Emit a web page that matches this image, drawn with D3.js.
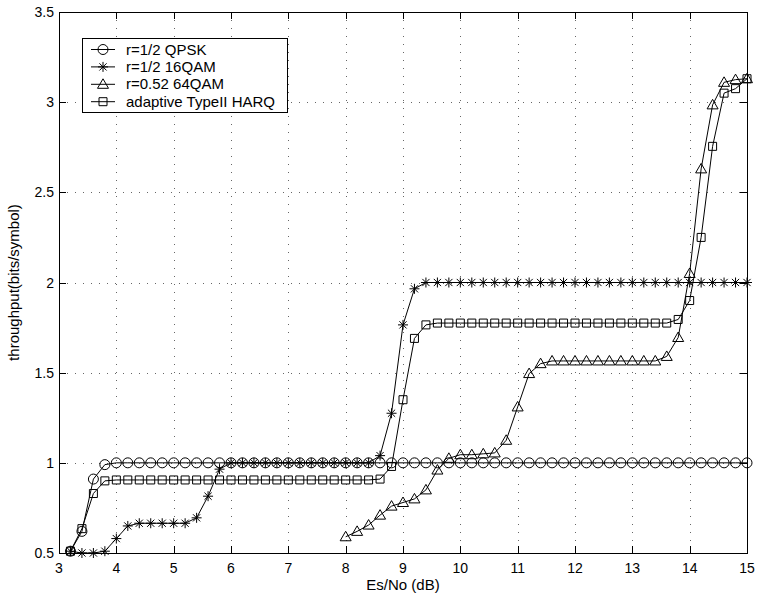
<!DOCTYPE html>
<html>
<head>
<meta charset="utf-8">
<title>throughput</title>
<script src="https://cdn.jsdelivr.net/npm/d3@7"></script>
<style>
body { margin: 0; background: #fff; }
text { font-family: "Liberation Sans", Arial, sans-serif; fill: #000; }
</style>
</head>
<body>
<svg id="chart" width="759" height="599"></svg>
<script>
// Es/No values (dB)
let xs_full = [3.2, 3.4, 3.6, 3.8, 4.0, 4.2, 4.4, 4.6, 4.8, 5.0, 5.2, 5.4, 5.6, 5.8, 6.0, 6.2, 6.4, 6.6, 6.8, 7.0,
               7.2, 7.4, 7.6, 7.8, 8.0, 8.2, 8.4, 8.6, 8.8, 9.0, 9.2, 9.4, 9.6, 9.8, 10.0, 10.2, 10.4, 10.6, 10.8, 11.0,
               11.2, 11.4, 11.6, 11.8, 12.0, 12.2, 12.4, 12.6, 12.8, 13.0, 13.2, 13.4, 13.6, 13.8, 14.0, 14.2, 14.4, 14.6, 14.8, 15.0];
let xs_64 = [8.0, 8.2, 8.4, 8.6, 8.8, 9.0, 9.2, 9.4, 9.6, 9.8, 10.0, 10.2, 10.4, 10.6, 10.8, 11.0, 11.2, 11.4,
             11.6, 11.8, 12.0, 12.2, 12.4, 12.6, 12.8, 13.0, 13.2, 13.4, 13.6, 13.8, 14.0, 14.2, 14.4, 14.6, 14.8, 15.0];

// throughput (bits/symbol)
let qpsk = [0.51, 0.62, 0.91, 0.99, 1, 1, 1, 1, 1, 1, 1, 1, 1, 1, 1, 1, 1, 1, 1, 1,
            1, 1, 1, 1, 1, 1, 1, 1, 1, 1, 1, 1, 1, 1, 1, 1, 1, 1, 1, 1,
            1, 1, 1, 1, 1, 1, 1, 1, 1, 1, 1, 1, 1, 1, 1, 1, 1, 1, 1, 1];
let qam16 = [0.51, 0.50, 0.50, 0.51, 0.58, 0.65, 0.665, 0.665, 0.665, 0.665, 0.665, 0.695, 0.815, 0.965, 1, 1, 1, 1, 1, 1,
             1, 1, 1, 1, 1, 1, 1, 1.04, 1.275, 1.765, 1.965, 2, 2, 2, 2, 2, 2, 2, 2, 2,
             2, 2, 2, 2, 2, 2, 2, 2, 2, 2, 2, 2, 2, 2, 2, 2, 2, 2, 2, 2];
let qam64 = [0.59, 0.62, 0.655, 0.71, 0.76, 0.78, 0.80, 0.85, 0.96, 1.025, 1.045, 1.045, 1.05, 1.055, 1.125, 1.31, 1.495, 1.55,
             1.565, 1.565, 1.565, 1.565, 1.565, 1.565, 1.565, 1.565, 1.565, 1.565, 1.59, 1.695, 2.05, 2.63, 2.985, 3.11, 3.125, 3.13];
let harq = [0.51, 0.635, 0.83, 0.90, 0.905, 0.905, 0.905, 0.905, 0.905, 0.905, 0.905, 0.905, 0.905, 0.905, 0.905, 0.905, 0.905, 0.905, 0.905, 0.905,
            0.905, 0.905, 0.905, 0.905, 0.905, 0.905, 0.905, 0.91, 0.98, 1.35, 1.69, 1.765, 1.775, 1.775, 1.775, 1.775, 1.775, 1.775, 1.775, 1.775,
            1.775, 1.775, 1.775, 1.775, 1.775, 1.775, 1.775, 1.775, 1.775, 1.775, 1.775, 1.775, 1.775, 1.795, 1.90, 2.25, 2.755, 3.05, 3.075, 3.13];

let series_names = ['r=1/2 QPSK', 'r=1/2 16QAM', 'r=0.52 64QAM', 'adaptive TypeII HARQ'];
let x_ticks = [3, 4, 5, 6, 7, 8, 9, 10, 11, 12, 13, 14, 15];
let y_ticks = [0.5, 1, 1.5, 2, 2.5, 3, 3.5];

let svg = d3.select('#chart');
let pl = 59, pr = 747, pt = 12, pb = 553;

let x = d3.scaleLinear().domain([3, 15]).range([pl, pr]);
let y = d3.scaleLinear().domain([0.5, 3.5]).range([pb, pt]);

// marker shapes
let markers = {
    circle: 'M5,0A5,5 0 1,1 -5,0A5,5 0 1,1 5,0Z',
    star: 'M-5,0L5,0M0,-5L0,5M-3.6,-3.6L3.6,3.6M-3.6,3.6L3.6,-3.6',
    triangle: 'M0,-5.5L5.5,4L-5.5,4Z',
    square: 'M-4,-4H4V4H-4Z'
};

let series = [
    {name: series_names[0], xs: xs_full, ys: qpsk, marker: 'circle'},
    {name: series_names[1], xs: xs_full, ys: qam16, marker: 'star'},
    {name: series_names[2], xs: xs_64, ys: qam64, marker: 'triangle'},
    {name: series_names[3], xs: xs_full, ys: harq, marker: 'square'}
];

// grid
let grid = svg.append('g')
    .attr('stroke', '#666')
    .attr('stroke-width', 1)
    .attr('stroke-dasharray', '1,7');
grid.selectAll('.gx').data(x_ticks.slice(1, -1)).enter().append('line')
    .attr('x1', d => Math.round(x(d)) + 0.5).attr('x2', d => Math.round(x(d)) + 0.5)
    .attr('y1', pt).attr('y2', pb);
grid.selectAll('.gy').data(y_ticks.slice(1, -1)).enter().append('line')
    .attr('y1', d => Math.round(y(d)) + 0.5).attr('y2', d => Math.round(y(d)) + 0.5)
    .attr('x1', pl).attr('x2', pr);

// lines + markers
let line = d3.line()
    .x(d => x(d[0]))
    .y(d => y(d[1]));

series.forEach(s => {
    let pts = s.xs.map((v, i) => [v, s.ys[i]]);
    svg.append('path')
        .datum(pts)
        .attr('d', line)
        .attr('fill', 'none')
        .attr('stroke', '#000')
        .attr('stroke-width', 1);
    svg.append('g').selectAll('path').data(pts).enter().append('path')
        .attr('d', markers[s.marker])
        .attr('transform', d => `translate(${x(d[0])},${y(d[1])})`)
        .attr('fill', 'none')
        .attr('stroke', '#000')
        .attr('stroke-width', 1);
});

// axes box and ticks
let axes = svg.append('g').attr('stroke', '#000').attr('stroke-width', 1);
axes.append('rect')
    .attr('x', pl + 0.5).attr('y', pt + 0.5)
    .attr('width', pr - pl).attr('height', pb - pt)
    .attr('fill', 'none');
let tl = 7;
x_ticks.forEach(t => {
    let px = Math.round(x(t)) + 0.5;
    axes.append('line').attr('x1', px).attr('x2', px).attr('y1', pb).attr('y2', pb - tl);
    axes.append('line').attr('x1', px).attr('x2', px).attr('y1', pt).attr('y2', pt + tl);
});
y_ticks.forEach(t => {
    let py = Math.round(y(t)) + 0.5;
    axes.append('line').attr('x1', pl).attr('x2', pl + tl).attr('y1', py).attr('y2', py);
    axes.append('line').attr('x1', pr).attr('x2', pr - tl).attr('y1', py).attr('y2', py);
});

svg.append('g').selectAll('text').data(x_ticks).enter().append('text')
    .attr('x', d => x(d))
    .attr('y', pb + 20)
    .attr('text-anchor', 'middle')
    .style('font-size', '14px')
    .text(d => d);
svg.append('g').selectAll('text').data(y_ticks).enter().append('text')
    .attr('x', pl - 5)
    .attr('y', d => y(d) + 5)
    .attr('text-anchor', 'end')
    .style('font-size', '14px')
    .text(d => d);

svg.append('text')
    .attr('x', (pl + pr) / 2)
    .attr('y', 590)
    .attr('text-anchor', 'middle')
    .style('font-size', '15px')
    .text('Es/No (dB)');
svg.append('text')
    .attr('transform', `translate(19,${(pt + pb) / 2}) rotate(-90)`)
    .attr('text-anchor', 'middle')
    .style('font-size', '15px')
    .text('throughput(bits/symbol)');

// legend
let legend = svg.append('g');
legend.append('rect')
    .attr('x', 82.5).attr('y', 38.5)
    .attr('width', 205).attr('height', 74)
    .attr('fill', '#fff').attr('stroke', '#000');
series.forEach((s, i) => {
    let ly = 49.5 + i * 17.4;
    legend.append('line')
        .attr('x1', 91).attr('x2', 115).attr('y1', ly).attr('y2', ly)
        .attr('stroke', '#000');
    legend.append('path')
        .attr('d', markers[s.marker])
        .attr('transform', `translate(103,${ly})`)
        .attr('fill', 'none').attr('stroke', '#000');
    legend.append('text')
        .attr('x', 126).attr('y', ly + 5)
        .style('font-size', '15px')
        .text(s.name);
});
</script>
</body>
</html>
